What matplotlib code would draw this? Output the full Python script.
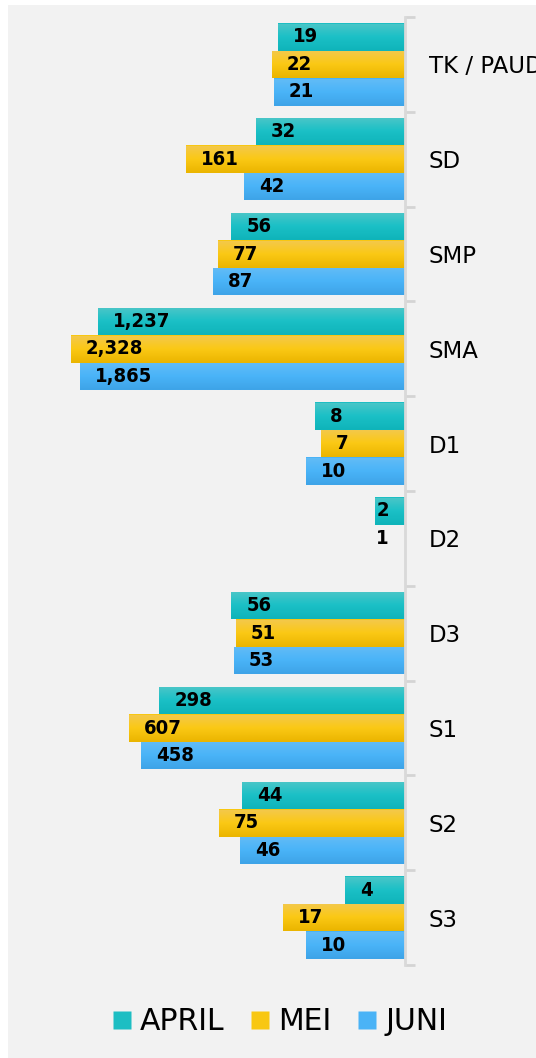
import matplotlib
matplotlib.use("Agg")
import matplotlib.pyplot as plt
from matplotlib import font_manager
from matplotlib.colors import LinearSegmentedColormap
from matplotlib.lines import Line2D
from matplotlib.patches import Rectangle
from matplotlib.transforms import blended_transform_factory
import numpy as np

categories = ["TK / PAUD", "SD", "SMP", "SMA", "D1", "D2", "D3", "S1", "S2", "S3"]
april = [19, 32, 56, 1237, 8, 2, 56, 298, 44, 4]
mei = [22, 161, 77, 2328, 7, 1, 51, 607, 75, 17]
juni = [21, 42, 87, 1865, 10, np.nan, 53, 458, 46, 10]
series_names = ["APRIL", "MEI", "JUNI"]
colors = ["#1dbec3", "#f8c712", "#4ab3f6"]
# top / middle / bottom shades of each bar
gradients = [["#4cc6c8", "#1bc0c6", "#0fb4ba"],
             ["#f3c84e", "#fbc915", "#ebb500"],
             ["#63bcf6", "#4ab4f8", "#3ea4e8"]]

# pick a narrow bold font for the value labels if one is installed
installed = {f.name for f in font_manager.fontManager.ttflist}
label_font = dict(weight="bold", size=14.5)
if "Liberation Sans Narrow" in installed:
    label_font["family"] = "Liberation Sans Narrow"
elif any(f.name == "DejaVu Sans" and f.stretch == "condensed" for f in font_manager.fontManager.ttflist):
    label_font["family"] = "DejaVu Sans"
    label_font["stretch"] = "condensed"
elif "Roboto" in installed:
    label_font["family"] = "Roboto"
    label_font["size"] = 14

W, H = 536, 1058
fig = plt.figure(figsize=(W / 100, H / 100), dpi=100)
fig.patch.set_facecolor("white")
# light gray panel behind everything
fig.patches.append(Rectangle((8 / W, 0), 1, 1 - 5 / H, transform=fig.transFigure,
                             facecolor="#f2f2f2", edgecolor="none", zorder=-10))

ax = fig.add_axes([8 / W, (H - 965) / H, 397 / W, (965 - 17) / H])
ax.set_facecolor("none")
ax.set_xscale("log")
ax.set_xlim(10000, 1)
ax.set_ylim(len(categories) - 0.5, -0.5)

y = np.arange(len(categories))
h = 0.29
trans = blended_transform_factory(ax.transAxes, ax.transData)
for k, vals in enumerate([april, mei, juni]):
    pos = y + (k - 1) * h
    bars = ax.barh(pos, vals, height=h, color=colors[k], edgecolor="none", zorder=2)
    cmap = LinearSegmentedColormap.from_list(series_names[k], gradients[k])
    grad = np.linspace(0, 1, 64).reshape(-1, 1)
    for bar, yi, v in zip(bars, pos, vals):
        if np.isnan(v):
            continue
        im = ax.imshow(grad, cmap=cmap, aspect="auto", transform=trans,
                       extent=(0, 1, yi + h / 2, yi - h / 2), origin="upper",
                       interpolation="bilinear", zorder=2.5)
        im.set_clip_path(bar)
        txt = f"{int(v):,}"
        if np.log10(v) * 99 < 40:
            ax.annotate(txt, xy=(1, yi), xytext=(-16, 0), textcoords="offset pixels",
                        ha="right", va="center", zorder=3, **label_font)
        else:
            ax.annotate(txt, xy=(v, yi), xytext=(15, 0), textcoords="offset pixels",
                        ha="left", va="center", zorder=3, **label_font)

ax.set_xlim(10000, 1)
ax.set_ylim(len(categories) - 0.5, -0.5)
ax.xaxis.set_visible(False)

for s in ["top", "bottom", "left"]:
    ax.spines[s].set_visible(False)
ax.spines["right"].set_color("#d9d9d9")
ax.spines["right"].set_linewidth(2)
ax.spines["right"].set_zorder(4)
ax.yaxis.tick_right()
ax.set_yticks(y)
ax.set_yticklabels(categories, fontsize=16.5, family="DejaVu Sans")
ax.tick_params(axis="y", which="major", length=0, pad=17)
ax.set_yticks(np.arange(len(categories) + 1) - 0.5, minor=True)
ax.tick_params(axis="y", which="minor", length=7, width=2, color="#d4d4d4")
for lab in ax.get_yticklabels():
    lab.set_horizontalalignment("left")

handles = [Line2D([], [], marker="s", linestyle="none", markersize=13,
                  markerfacecolor=c, markeredgecolor="none") for c in colors]
fig.legend(handles, series_names, loc="center", bbox_to_anchor=(280 / W, 1 - 1022 / H),
           ncol=3, frameon=False, handlelength=0.6, handletextpad=0.3,
           columnspacing=0.9, prop=dict(family="DejaVu Sans", size=21.5))

fig.savefig("out.png", dpi=100, facecolor=fig.get_facecolor())
